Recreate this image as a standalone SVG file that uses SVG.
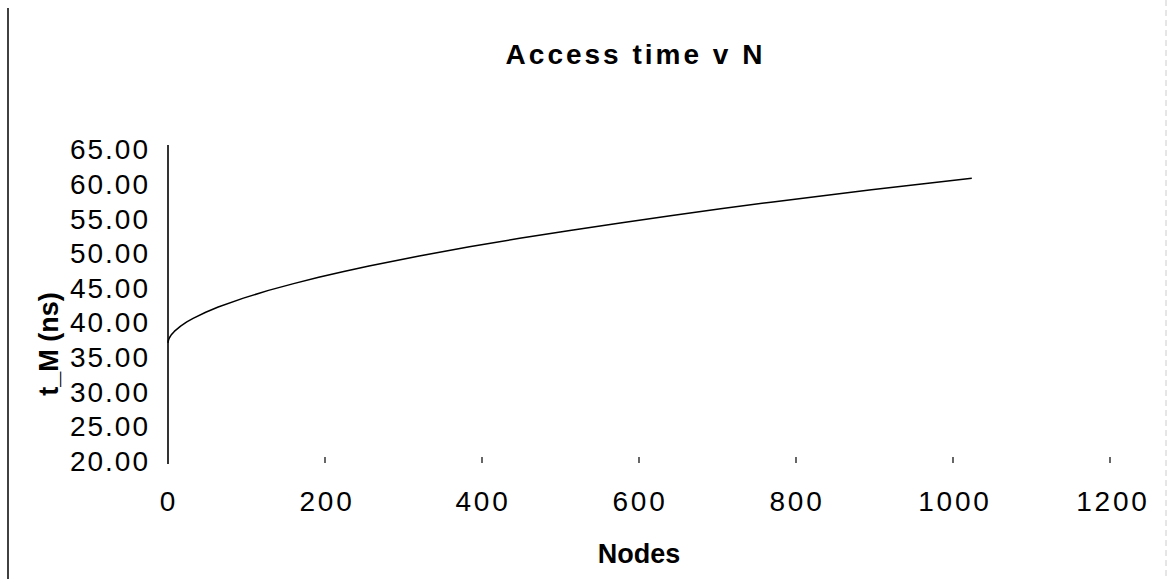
<svg xmlns="http://www.w3.org/2000/svg" width="1167" height="579" viewBox="0 0 1167 579">
  <style>
    .title { font-family: "Liberation Sans", Arial, sans-serif; font-weight: bold; font-size: 28px; letter-spacing: 3px; fill: #000; }
    .axis-title { font-family: "Liberation Sans", Arial, sans-serif; font-weight: bold; font-size: 27px; fill: #000; }
    .tick-label { font-family: "Liberation Sans", Arial, sans-serif; font-size: 28px; fill: #000; }
    .ylab { letter-spacing: 2px; text-anchor: end; }
    .xlab { letter-spacing: 2.8px; text-anchor: middle; }
    .axis { stroke: #000; stroke-width: 1.6; fill: none; }
    .tick { stroke: #000; stroke-width: 1.2; }
    .series { stroke: #000; stroke-width: 1.5; fill: none; stroke-linejoin: round; }
  </style>

  <rect x="0" y="0" width="1167" height="579" fill="#fff"/>

  <!-- page frame edges -->
  <line x1="8" y1="8" x2="8" y2="579" stroke="#111" stroke-width="1.6"/>
  <line x1="1166" y1="0" x2="1166" y2="579" stroke="#ccc" stroke-width="1" stroke-dasharray="6 4"/>

  <!-- chart title -->
  <text class="title" x="635.5" y="64" text-anchor="middle">Access time v N</text>

  <!-- vertical axis -->
  <g id="y-axis">
    <line class="axis" x1="168" y1="145" x2="168" y2="464"/>
    <g class="tick-label ylab">
      <text x="150" y="159">65.00</text>
      <text x="150" y="194">60.00</text>
      <text x="150" y="229">55.00</text>
      <text x="150" y="263">50.00</text>
      <text x="150" y="298">45.00</text>
      <text x="150" y="332">40.00</text>
      <text x="150" y="367">35.00</text>
      <text x="150" y="402">30.00</text>
      <text x="150" y="436">25.00</text>
      <text x="150" y="471">20.00</text>
    </g>
    <text class="axis-title" transform="translate(58 344) rotate(-90)" text-anchor="middle">t_M  (ns)</text>
  </g>

  <!-- horizontal axis ticks and labels -->
  <g id="x-axis">
    <g class="tick">
      <line x1="325" y1="457" x2="325" y2="463"/>
      <line x1="482" y1="457" x2="482" y2="463"/>
      <line x1="639" y1="457" x2="639" y2="463"/>
      <line x1="796" y1="457" x2="796" y2="463"/>
      <line x1="953" y1="457" x2="953" y2="463"/>
      <line x1="1110" y1="457" x2="1110" y2="463"/>
    </g>
    <g class="tick-label xlab">
      <text x="169" y="511">0</text>
      <text x="327" y="511">200</text>
      <text x="483" y="511">400</text>
      <text x="640" y="511">600</text>
      <text x="797" y="511">800</text>
      <text x="955" y="511">1000</text>
      <text x="1113" y="511">1200</text>
    </g>
    <text class="axis-title" x="639" y="563" text-anchor="middle">Nodes</text>
  </g>

  <!-- access time series -->
  <g id="connectors">
    <polyline class="series" points="168,342.9 168.2,341.2 168.4,340.4 168.8,339.2 169.6,337.5 171.1,335.1 174.3,331.4 180.6,326.1 186.8,321.9 193.1,318.4 205.7,312.3 218.2,307.0 243.4,298.1 268.5,290.4 293.6,283.6 318.7,277.3 343.8,271.5 369.0,266.0 419.2,256.0 469.4,246.8 519.7,238.3 569.9,230.4 620.2,222.9 670.4,215.7 720.6,208.8 770.9,202.2 821.1,195.9 871.4,189.8 921.6,183.9 971.8,178.2"/>
  </g>
</svg>
